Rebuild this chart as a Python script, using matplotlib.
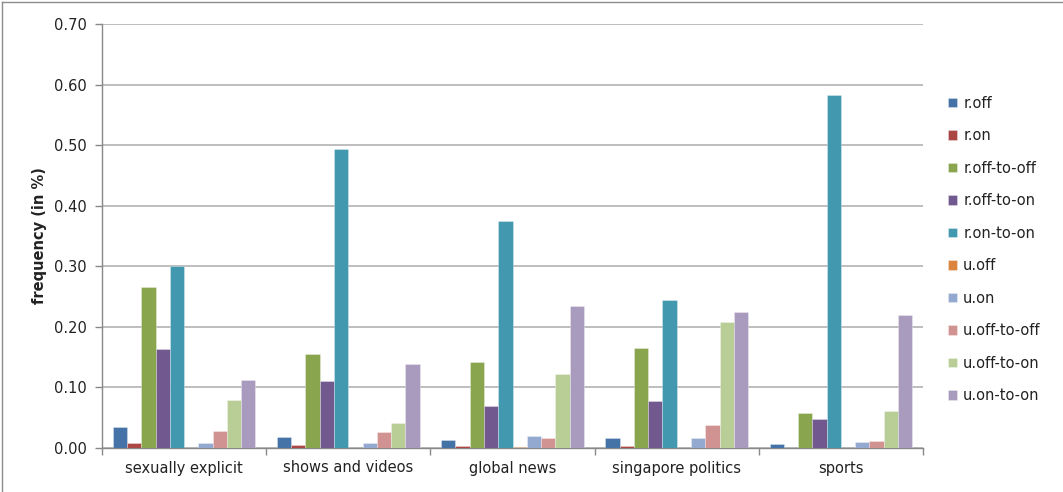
import numpy as np
import matplotlib.pyplot as plt
from matplotlib.lines import Line2D

categories = ["sexually explicit", "shows and videos", "global news",
              "singapore politics", "sports"]

series_names = ["r.off", "r.on", "r.off-to-off", "r.off-to-on", "r.on-to-on",
                "u.off", "u.on", "u.off-to-off", "u.off-to-on", "u.on-to-on"]

r_off = [0.034, 0.018, 0.014, 0.016, 0.006]
r_on = [0.008, 0.005, 0.003, 0.003, 0.000]
r_off_to_off = [0.265, 0.155, 0.142, 0.165, 0.058]
r_off_to_on = [0.163, 0.111, 0.069, 0.077, 0.048]
r_on_to_on = [0.301, 0.493, 0.374, 0.245, 0.583]
u_off = [0.000, 0.000, 0.002, 0.000, 0.000]
u_on = [0.008, 0.008, 0.020, 0.016, 0.010]
u_off_to_off = [0.028, 0.026, 0.016, 0.038, 0.012]
u_off_to_on = [0.079, 0.042, 0.122, 0.208, 0.061]
u_on_to_on = [0.112, 0.138, 0.234, 0.225, 0.220]

series_values = [r_off, r_on, r_off_to_off, r_off_to_on, r_on_to_on,
                 u_off, u_on, u_off_to_off, u_off_to_on, u_on_to_on]

colors = ["#4572A7", "#AA4643", "#89A54E", "#71588F", "#4198AF",
          "#DB843D", "#93A9CF", "#D19392", "#B9CD96", "#A99BBD"]

yticks = [0.0, 0.1, 0.2, 0.3, 0.4, 0.5, 0.6, 0.7]

plt.rcParams['font.family'] = ['DejaVu Sans']
FS = 10.5
TXT = "#222222"

fig = plt.figure(figsize=(10.63, 4.92), dpi=100)
ax = fig.add_axes([102 / 1063, 1 - 448 / 492, (923 - 102) / 1063, (448 - 24) / 492])

n = len(series_names)
bw = 1.0 / (n + 1.5)
x = np.arange(len(categories))
for i, (name, vals, c) in enumerate(zip(series_names, series_values, colors)):
    offs = (i - (n - 1) / 2) * bw
    ax.bar(x + offs, vals, width=bw, color=c, label=name,
           edgecolor=(1, 1, 1, 0.35), linewidth=0.6, zorder=3)

ax.set_xlim(-0.5, len(categories) - 0.5)
ax.set_ylim(0, 0.70)
ax.set_yticks(yticks)
ax.set_yticklabels([f"{v:.2f}" for v in yticks], fontsize=FS, color=TXT)
ax.yaxis.grid(True, color="#b3b3b3", linewidth=1.2, zorder=0)
ax.set_axisbelow(True)

ax.set_xticks(x)
ax.set_xticklabels(categories, fontsize=FS, color=TXT)
ax.tick_params(axis='x', length=0, pad=9)
ax.set_xticks(np.arange(-0.5, len(categories)), minor=True)
ax.tick_params(axis='x', which='minor', length=5, color="#888888", width=1)
ax.tick_params(axis='y', length=5, color="#888888", width=1, pad=6)

for s in ["top", "right"]:
    ax.spines[s].set_visible(False)
for s in ["left", "bottom"]:
    ax.spines[s].set_color("#888888")
    ax.spines[s].set_linewidth(1)

ax.set_ylabel("frequency (in %)", fontsize=FS, fontweight="bold", color=TXT, labelpad=5)

leg = fig.legend(loc="center left", bbox_to_anchor=(942 / 1063, 1 - 249.5 / 492),
                 frameon=False, fontsize=FS, handlelength=0.65, handleheight=0.65,
                 handletextpad=0.4, labelspacing=1.2, borderaxespad=0)
for t in leg.get_texts():
    t.set_color(TXT)

# chart-area frame: top and left edges
fig.lines.append(Line2D([1.5 / 1063, 1.5 / 1063], [0, 1 - 1.5 / 492],
                        transform=fig.transFigure, color="#8c8c8c", linewidth=1))
fig.lines.append(Line2D([1.5 / 1063, 1], [1 - 1.5 / 492, 1 - 1.5 / 492],
                        transform=fig.transFigure, color="#8c8c8c", linewidth=1))

fig.savefig("out.png", dpi=100)
